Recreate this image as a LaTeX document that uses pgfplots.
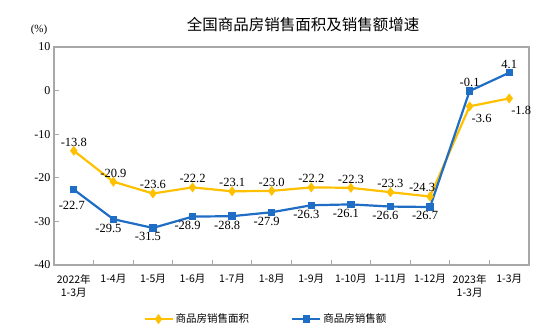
\documentclass[border=0pt]{standalone}
\usepackage{pgfplots}
\pgfplotsset{compat=1.18}
\usepackage{fontspec}
\setmainfont{Liberation Serif}
\newfontfamily\cjk{Noto Sans CJK SC}
\definecolor{cyel}{HTML}{FFC000}
\definecolor{cblu}{HTML}{1F6DC4}
\definecolor{cgrid}{HTML}{A8A8A8}
\begin{document}
\begin{tikzpicture}[x=1pt,y=1pt]
\path[use as bounding box] (0,0) rectangle (554,336);
\node[font=\cjk\fontsize{15.5}{17}\selectfont] at (303,311) {全国商品房销售面积及销售额增速};
\node[font=\fontsize{11}{13}\selectfont] at (39,306) {(\%)};
\begin{axis}[
  at={(54pt,71pt)}, anchor=south west,
  scale only axis, width=475pt, height=218pt,
  xmin=-0.5, xmax=11.5, ymin=-40, ymax=10,
  ytick={-40,-30,...,10},
  xtick={0,...,11},
  xticklabels={{2022年\\1-3月},1-4月,1-5月,1-6月,1-7月,1-8月,1-9月,1-10月,1-11月,1-12月,{2023年\\1-3月},1-3月},
  xticklabel style={font=\cjk\fontsize{10.5}{13}\selectfont, align=center, anchor=north, yshift=-6pt},
  minor xtick={0.5,1.5,...,10.5},
  major x tick style={draw=none},
  xtick pos=bottom, ytick pos=left,
  tick style={cgrid, line width=1pt},
  minor tick length=5pt, major tick length=5pt,
  tick align=inside,
  yticklabel style={font=\fontsize{12}{14}\selectfont},
  /pgf/number format/assume math mode=true,
  axis line style={cgrid, line width=1.2pt},
  axis background/.style={draw=cgrid, line width=1.2pt},
  clip=false,
  legend columns=2,
  legend style={draw=none, at={(0.446,-0.248)}, anchor=center, font=\cjk\fontsize{10.5}{12}\selectfont, /tikz/every even column/.append style={column sep=40pt}},
  legend image code/.code={\draw[#1] (0pt,0pt) -- (28pt,0pt); \draw[#1, mark repeat=1] plot coordinates {(14pt,0pt)};},
  every node near coord/.append style={font=\fontsize{12.5}{14}\selectfont, text=black},
]
\addplot[cyel, line width=2.2pt, mark=diamond*, mark size=3.2pt, mark options={solid, fill=cyel}] coordinates {
(0,-13.8) (1,-20.9) (2,-23.6) (3,-22.2) (4,-23.1) (5,-23.0) (6,-22.2) (7,-22.3) (8,-23.3) (9,-24.3) (10,-3.6) (11,-1.8)};
\addlegendentry{商品房销售面积}
\addplot[cblu, line width=2.2pt, mark=square*, mark size=2.6pt, mark options={solid, fill=cblu}] coordinates {
(0,-22.7) (1,-29.5) (2,-31.5) (3,-28.9) (4,-28.8) (5,-27.9) (6,-26.3) (7,-26.1) (8,-26.6) (9,-26.7) (10,-0.1) (11,4.1)};
\addlegendentry{商品房销售额}
% labels
\addplot[draw=none, mark=none, nodes near coords, point meta=explicit symbolic, nodes near coords align={above}, every node near coord/.append style={yshift=1pt}, forget plot] coordinates {
(0,-13.8)[-13.8] (1,-20.9)[-20.9] (2,-23.6)[-23.6] (3,-22.2)[-22.2] (4,-23.1)[-23.1] (5,-23.0)[-23.0] (6,-22.2)[-22.2] (7,-22.3)[-22.3] (8,-23.3)[-23.3]};
\addplot[draw=none, mark=none, nodes near coords, point meta=explicit symbolic, nodes near coords align={above}, every node near coord/.append style={xshift=-8pt, yshift=1pt}, forget plot] coordinates {
(9,-24.3)[-24.3]};
\addplot[draw=none, mark=none, nodes near coords, point meta=explicit symbolic, nodes near coords align={below}, every node near coord/.append style={xshift=12pt, yshift=-4pt}, forget plot] coordinates {
(10,-3.6)[-3.6] (11,-1.8)[-1.8]};
\addplot[draw=none, mark=none, nodes near coords, point meta=explicit symbolic, nodes near coords align={below}, every node near coord/.append style={xshift=-2pt, yshift=-8pt}, forget plot] coordinates {
(0,-22.7)[-22.7]};
\addplot[draw=none, mark=none, nodes near coords, point meta=explicit symbolic, nodes near coords align={below}, every node near coord/.append style={xshift=-5pt, yshift=-1pt}, forget plot] coordinates {
(1,-29.5)[-29.5] (2,-31.5)[-31.5] (3,-28.9)[-28.9] (4,-28.8)[-28.8] (5,-27.9)[-27.9] (6,-26.3)[-26.3] (7,-26.1)[-26.1] (8,-26.6)[-26.6] (9,-26.7)[-26.7]};
\addplot[draw=none, mark=none, nodes near coords, point meta=explicit symbolic, nodes near coords align={above}, every node near coord/.append style={yshift=1pt}, forget plot] coordinates {
(10,-0.1)[-0.1] (11,4.1)[4.1]};
\end{axis}
\end{tikzpicture}
\end{document}
